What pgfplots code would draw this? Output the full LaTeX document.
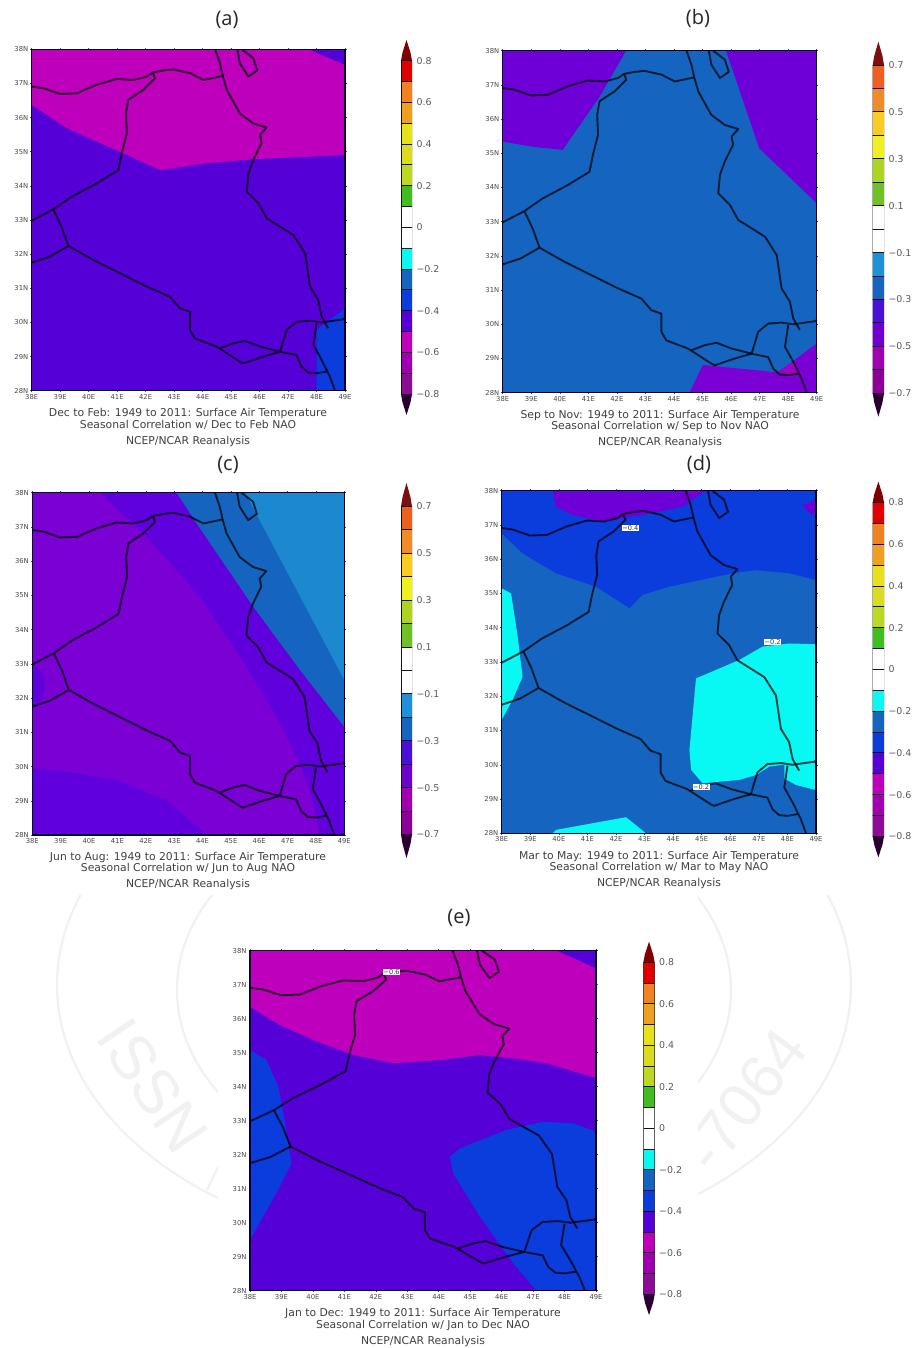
\documentclass[border=0pt]{standalone}
\usepackage{fontspec}
\usepackage{pgfplots}
\pgfplotsset{compat=1.18}
\setmainfont{DejaVu Sans}
\newfontfamily\titlefont{Open Sans}
\newfontfamily\wmfont{Liberation Sans}
\definecolor{cbl}{HTML}{141414}
\definecolor{blueA}{HTML}{1565C0}
\definecolor{blueB}{HTML}{0B3CDC}
\definecolor{purpA}{HTML}{5600D8}
\definecolor{purpB}{HTML}{7A00D4}
\definecolor{purpC}{HTML}{6000DC}
\definecolor{magA}{HTML}{BE00BC}
\definecolor{skyA}{HTML}{1C88D0}
\definecolor{cyanA}{HTML}{08F8F4}
\definecolor{wm}{HTML}{F1F1F1}
\pgfplotsset{
  mapax/.style={scale only axis,anchor=south west,xmin=38,xmax=49,ymin=28,ymax=38,
    axis on top,axis line style={line width=1.4pt,color=black!85!blue},
    xtick={38,39,40,41,42,43,44,45,46,47,48,49},
    xticklabels={38E,39E,40E,41E,42E,43E,44E,45E,46E,47E,48E,49E},
    ytick={28,29,30,31,32,33,34,35,36,37,38},
    yticklabels={28N,29N,30N,31N,32N,33N,34N,35N,36N,37N,38N},
    tick align=outside,major tick length=1.5pt,tick style={line width=.5pt,color=black!70},
    ticklabel style={font=\fontsize{6.8}{7}\selectfont,text=black!72},
    xticklabel style={yshift=1.5pt},yticklabel style={xshift=1.5pt}},
  cbax/.style={scale only axis,anchor=south west,xmin=0,xmax=1,xtick=\empty,
    axis line style={draw=none},major tick length=0pt,yticklabel pos=right,
    ticklabel style={font=\fontsize{9.4}{10}\selectfont,text=black!65},
    yticklabel style={anchor=west,xshift=1pt}},
  cbeight/.style={cbax,ymin=-0.9,ymax=0.9,ytick={-0.8,-0.6,-0.4,-0.2,0,0.2,0.4,0.6,0.8},
    yticklabels={−0.8,−0.6,−0.4,−0.2,0,0.2,0.4,0.6,0.8}},
  cbseven/.style={cbax,ymin=-0.8,ymax=0.8,ytick={-0.7,-0.5,-0.3,-0.1,0.1,0.3,0.5,0.7},
    yticklabels={−0.7,−0.5,−0.3,−0.1,0.1,0.3,0.5,0.7}},
  bline/.style={draw=black,draw opacity=.72,line width=1.9pt,line join=round,no markers}
}
\newcommand\seg[3]{\addplot[fill=#1,draw=cbl,line width=1pt] coordinates {(0,#2)(1,#2)(1,#3)(0,#3)} --cycle;}
\newcommand\cbeightbars{%
 \addplot[fill=black!50!red,draw=none] coordinates {(0,0.8)(0.14,0.84)(0.5,0.9)(0.86,0.84)(1,0.8)} --cycle;
 \seg{red!88!black}{0.7}{0.8}
 \definecolor{c1}{HTML}{F08220}\seg{c1}{0.6}{0.7}
 \definecolor{c2}{HTML}{F0A020}\seg{c2}{0.5}{0.6}
 \definecolor{c3}{HTML}{E8E018}\seg{c3}{0.4}{0.5}
 \definecolor{c4}{HTML}{DCDC1E}\seg{c4}{0.3}{0.4}
 \definecolor{c5}{HTML}{BCD820}\seg{c5}{0.2}{0.3}
 \definecolor{c6}{HTML}{40BE20}\seg{c6}{0.1}{0.2}
 \seg{white}{0}{0.1}
 \seg{white}{-0.1}{0}
 \seg{cyanA}{-0.2}{-0.1}
 \seg{blueA}{-0.3}{-0.2}
 \seg{blueB}{-0.4}{-0.3}
 \seg{purpA}{-0.5}{-0.4}
 \seg{magA}{-0.6}{-0.5}
 \definecolor{c7}{HTML}{A000B0}\seg{c7}{-0.7}{-0.6}
 \definecolor{c8}{HTML}{8C0C98}\seg{c8}{-0.8}{-0.7}
 \definecolor{c9}{HTML}{2A0030}\addplot[fill=c9,draw=none] coordinates {(0,-0.8)(0.14,-0.84)(0.5,-0.9)(0.86,-0.84)(1,-0.8)} --cycle;
}
\newcommand\cbsevenbars{%
 \definecolor{d0}{HTML}{7B1010}\addplot[fill=d0,draw=none] coordinates {(0,0.7)(0.14,0.74)(0.5,0.8)(0.86,0.74)(1,0.7)} --cycle;
 \definecolor{d1}{HTML}{EE6020}\seg{d1}{0.6}{0.7}
 \definecolor{d2}{HTML}{F08C28}\seg{d2}{0.5}{0.6}
 \definecolor{d3}{HTML}{F8CC20}\seg{d3}{0.4}{0.5}
 \definecolor{d4}{HTML}{F0F020}\seg{d4}{0.3}{0.4}
 \definecolor{d5}{HTML}{ACD420}\seg{d5}{0.2}{0.3}
 \definecolor{d6}{HTML}{70C028}\seg{d6}{0.1}{0.2}
 \seg{white}{0}{0.1}
 \seg{white}{-0.1}{0}
 \definecolor{d7}{HTML}{2090D8}\seg{d7}{-0.2}{-0.1}
 \seg{blueA}{-0.3}{-0.2}
 \definecolor{d8}{HTML}{4A10D8}\seg{d8}{-0.4}{-0.3}
 \definecolor{d9}{HTML}{6E00D0}\seg{d9}{-0.5}{-0.4}
 \definecolor{d10}{HTML}{A000B0}\seg{d10}{-0.6}{-0.5}
 \definecolor{d11}{HTML}{8C0098}\seg{d11}{-0.7}{-0.6}
 \definecolor{d12}{HTML}{2A0030}\addplot[fill=d12,draw=none] coordinates {(0,-0.7)(0.14,-0.74)(0.5,-0.8)(0.86,-0.74)(1,-0.7)} --cycle;
}
\newcommand\bgfill[1]{\addplot[fill=#1,draw=none] coordinates {(38,28)(49,28)(49,38)(38,38)} --cycle;}
\newcommand\borders{%
 \addplot[bline] coordinates {(38.00,36.91)(38.41,36.86)(38.99,36.69)(39.58,36.71)(40.28,36.96)(40.98,37.13)(41.57,37.10)(42.04,37.20)(42.25,37.32)(42.62,37.38)(42.97,37.41)(43.56,37.30)(44.03,37.10)(44.49,37.18)(44.71,37.22)};
 \addplot[bline] coordinates {(42.25,37.32)(42.33,37.15)(41.92,36.81)(41.39,36.52)(41.31,36.12)(41.34,35.54)(41.16,34.95)(41.04,34.46)(40.28,34.07)(39.40,33.68)(38.76,33.31)(38.00,32.98)};
 \addplot[bline] coordinates {(38.76,33.31)(39.05,32.80)(39.29,32.24)};
 \addplot[bline] coordinates {(38.00,31.75)(38.64,31.93)(39.29,32.24)(40.16,31.83)(41.22,31.39)(42.04,31.05)(42.86,30.75)(43.21,30.41)(43.56,30.31)(43.56,29.78)(43.73,29.53)(44.49,29.29)(45.31,28.85)(45.43,28.80)(46.13,29.00)(46.72,29.14)};
 \addplot[bline] coordinates {(44.61,29.24)(45.08,29.39)(45.49,29.46)(46.02,29.29)(46.72,29.14)(47.30,29.04)(47.48,28.70)(47.71,28.53)(48.00,28.51)(48.36,28.56)};
 \addplot[bline] coordinates {(46.72,29.14)(46.95,29.78)(47.30,30.02)(47.77,30.05)(48.18,30.00)(48.94,30.09)(49.00,30.12)};
 \addplot[bline] coordinates {(44.44,38.00)(44.61,37.59)(44.71,37.22)(44.85,36.81)(45.31,36.12)(45.78,35.83)(46.25,35.71)(46.02,35.49)(46.07,35.25)(45.78,34.76)(45.61,34.37)(45.55,33.83)(45.96,33.49)(46.25,33.05)(47.19,32.56)(47.60,32.02)(47.77,31.05)(48.06,30.66)(48.18,30.17)(48.41,29.83)};
 \addplot[bline] coordinates {(45.22,38.00)(45.31,37.59)(45.61,37.20)(45.92,37.38)(45.78,37.74)(45.37,38.00)};
 \addplot[bline] coordinates {(48.00,29.97)(47.89,29.34)(48.18,28.90)(48.47,28.41)(48.65,28.00)};
}
\newcommand\cpt[3]{\node[align=center,text=black!75,font=\fontsize{10.8}{11}\selectfont] at ({#1*1pt},{(1348-#2)*1pt}) {#3};}
\newcommand\ttl[3]{\node[font=\titlefont\fontsize{20}{21}\selectfont,text=black!85] at ({#1*1pt},{(1348-#2)*1pt}) {#3};}
\newcommand\wml[4]{\node[font=\wmfont\fontsize{62}{64}\selectfont,text=wm,rotate=#4] at ({#1*1pt},{(1348-#2)*1pt}) {#3};}
\newcommand\lab[3]{\node[fill=white,inner sep=.6pt,font=\fontsize{6.6}{7}\selectfont,text=black!80] at (axis cs:#1,#2) {#3};}
\begin{document}
\begin{tikzpicture}
\path[use as bounding box] (0,0) rectangle (912pt,1348pt);
% watermark
\begin{scope}
\clip (0,0) rectangle (218pt,453pt) (698pt,0) rectangle (912pt,453pt);
\draw[wm,line width=2.2pt] (454pt,363pt) ellipse [x radius=397pt,y radius=265pt];
\draw[wm,line width=2.2pt] (454pt,358pt) ellipse [x radius=277pt,y radius=195pt];
\wml{153}{1086}{ISSN}{-56}
\wml{745}{1100}{-7064}{53}
\draw[wm,line width=2.2pt] (207pt,158pt) -- (218pt,181pt);
\end{scope}
% panel a
\begin{axis}[mapax,at={(31.7pt,957.3pt)},width=313.3pt,height=341.4pt]
\bgfill{purpA}
\addplot[fill=magA,draw=none] coordinates {(38,38)(47.71,38)(49,37.54)(49,34.90)(45.78,34.78)(44.14,34.66)(42.50,34.46)(41.22,34.95)(40.40,35.25)(39.23,35.69)(38,36.37)} --cycle;
\addplot[fill=blueB,draw=none] coordinates {(48,28)(48,29.78)(49,30.41)(49,28)} --cycle;
\borders
\end{axis}
\begin{axis}[cbeight,at={(401pt,933pt)},width=11pt,height=375pt]\cbeightbars\end{axis}
% panel b
\begin{axis}[mapax,at={(502.7pt,955.3pt)},width=314pt,height=342pt]
\bgfill{blueA}
\addplot[fill=purpC!85!magA,draw=none] coordinates {(38,38)(42.32,38)(41.39,36.65)(40.10,35.10)(39.05,35.19)(38,35.34)} --cycle;
\addplot[fill=purpC!85!magA,draw=none] coordinates {(45.82,38)(46.99,35.14)(49,33.54)(49,38)} --cycle;
\addplot[fill=purpB,draw=none] coordinates {(44.54,28)(45.01,28.81)(47.46,28.61)(47.63,28.59)(49,29.44)(49,28)} --cycle;
\addplot[fill=magA!70!purpA,draw=none] coordinates {(47.63,28.59)(48.16,28.91)(48.39,28.52)} --cycle;
\borders
\end{axis}
\begin{axis}[cbseven,at={(872.7pt,931.3pt)},width=11.3pt,height=375pt]\cbsevenbars\end{axis}
% panel c
\begin{axis}[mapax,at={(32.3pt,513pt)},width=312pt,height=342.3pt]
\bgfill{purpC}
\addplot[fill=purpB,draw=none] coordinates {(38,38)(40.39,38)(42.03,36.71)(43.91,34.96)(45.32,33.21)(46.61,31.46)(47.44,30.09)(47.85,29.12)(48.14,28)(44.15,28)(42.74,29.02)(40.97,29.61)(39.21,29.85)(38,29.95)} --cycle;
\addplot[fill=purpC,draw=none] coordinates {(38,33.01)(38.33,32.77)(38.45,32.43)(38.33,31.94)(38,31.65)} --cycle;
\addplot[fill=blueA,draw=none] coordinates {(43.09,38)(43.91,36.96)(45.79,34.67)(47.44,32.82)(49,31.16)(49,38)} --cycle;
\addplot[fill=skyA,draw=none] coordinates {(45.50,38)(49,32.53)(49,38)} --cycle;
\borders
\end{axis}
\begin{axis}[cbseven,at={(401pt,490pt)},width=11pt,height=375pt]\cbsevenbars\end{axis}
% panel d
\begin{axis}[mapax,at={(501.7pt,514.7pt)},width=314.3pt,height=342.6pt]
\bgfill{blueA}
\addplot[fill=blueB,draw=none] coordinates {(38,38)(49,38)(49,35.39)(48.07,35.59)(46.90,35.68)(46.08,35.59)(43.87,35.20)(42.93,34.96)(42.47,34.57)(41.30,35.20)(39.90,35.59)(38.73,36.17)(38,36.75)} --cycle;
\addplot[fill=purpC!85!magA,draw=none] coordinates {(39.78,38)(39.90,37.53)(40.48,37.29)(41.53,37.10)(42.93,37.29)(44.33,37.53)(45.15,38)} --cycle;
\addplot[fill=purpC!85!magA,draw=none] coordinates {(49,37.73)(48.53,37.58)(48.77,37.34)(49,37.29)} --cycle;
\addplot[fill=cyanA,draw=none] coordinates {(38,35.15)(38.33,35.00)(38.56,33.74)(38.73,32.57)(38.38,31.89)(38,31.31)} --cycle;
\addplot[fill=cyanA,draw=none] coordinates {(46.32,33.06)(44.80,32.52)(44.57,30.43)(44.63,29.85)(45.03,29.46)(46.32,29.56)(46.90,29.70)(47.37,29.95)(47.89,30.00)(47.89,29.60)(48.30,29.41)(49,29.26)(49,33.52)(48.07,33.54)(47.13,33.45)} --cycle;
\addplot[fill=cyanA,draw=none] coordinates {(39.78,28)(39.90,28.10)(42.35,28.47)(43.05,28)} --cycle;
\borders
\lab{42.50}{36.90}{−0.4}
\lab{47.48}{33.59}{−0.2}
\lab{44.98}{29.36}{−0.2}
\end{axis}
\begin{axis}[cbeight,at={(872.7pt,490.7pt)},width=11.3pt,height=375.6pt]\cbeightbars\end{axis}
% panel e
\begin{axis}[mapax,at={(250pt,57.3pt)},width=346pt,height=340pt]
\bgfill{purpA}
\addplot[fill=magA,draw=none] coordinates {(38,38)(47.75,38)(49,37.48)(49,34.25)(47.43,34.69)(46.37,34.83)(45.31,34.93)(44.04,34.78)(42.56,34.69)(41.29,34.93)(40.01,35.37)(38.95,35.81)(38,36.35)} --cycle;
\addplot[fill=blueB,draw=none] coordinates {(38,35.08)(38.53,34.78)(38.90,34)(39.06,33.22)(39.32,31.75)(38.95,31.06)(38.53,30.37)(38,29.49)} --cycle;
\addplot[fill=blueB,draw=none] coordinates {(44.36,31.94)(44.68,32.19)(46.16,32.73)(47.33,32.97)(48.28,32.92)(49,32.68)(49,28)(47.11,28)(46.37,28.80)(45.31,30.18)(44.46,31.45)} --cycle;
\borders
\lab{42.50}{37.38}{−0.6}
\end{axis}
\begin{axis}[cbeight,at={(643.3pt,33pt)},width=11.4pt,height=373.3pt]\cbeightbars\end{axis}
% titles & captions
\ttl{227}{20}{(a)}\ttl{698}{19}{(b)}\ttl{228}{465}{(c)}\ttl{699}{464}{(d)}\ttl{459}{918}{(e)}
\cpt{188}{414}{Dec to Feb: 1949 to 2011: Surface Air Temperature}
\cpt{188}{425}{Seasonal Correlation w/ Dec to Feb NAO}
\cpt{188}{442}{NCEP/NCAR Reanalysis}
\cpt{660}{416}{Sep to Nov: 1949 to 2011: Surface Air Temperature}
\cpt{660}{427}{Seasonal Correlation w/ Sep to Nov NAO}
\cpt{660}{443}{NCEP/NCAR Reanalysis}
\cpt{188}{858}{Jun to Aug: 1949 to 2011: Surface Air Temperature}
\cpt{188}{869}{Seasonal Correlation w/ Jun to Aug NAO}
\cpt{188}{885}{NCEP/NCAR Reanalysis}
\cpt{659}{857}{Mar to May: 1949 to 2011: Surface Air Temperature}
\cpt{659}{868}{Seasonal Correlation w/ Mar to May NAO}
\cpt{659}{884}{NCEP/NCAR Reanalysis}
\cpt{423}{1314}{Jan to Dec: 1949 to 2011: Surface Air Temperature}
\cpt{423}{1325}{Seasonal Correlation w/ Jan to Dec NAO}
\cpt{423}{1342}{NCEP/NCAR Reanalysis}
\end{tikzpicture}
\end{document}
